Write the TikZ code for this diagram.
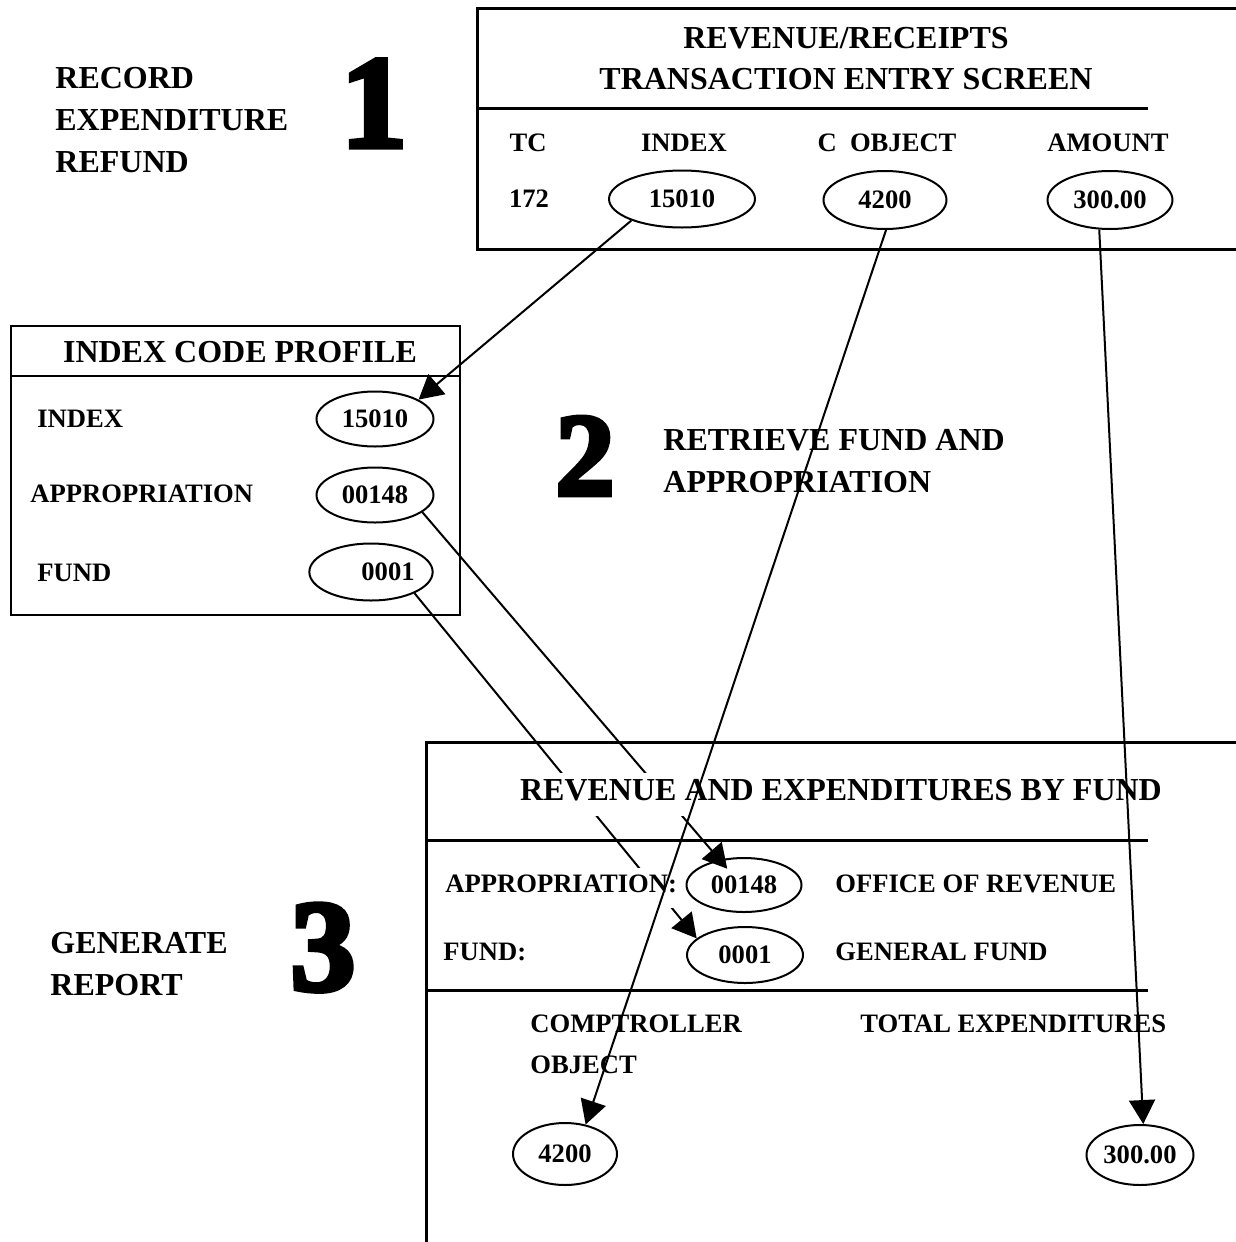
\documentclass[tikz,border=0pt]{standalone}
\usepackage{fontspec}
\setmainfont{Liberation Serif}
\newfontfamily\numfont[BoldFeatures={FakeBold=4}]{Liberation Serif}
\usetikzlibrary{shapes.geometric, arrows.meta, positioning, backgrounds}
\tikzset{
    boxline/.style  ={line width=1.5pt},
    titletxt/.style ={font=\bfseries\fontsize{16}{20.5}\selectfont, inner sep=0pt, align=center},
    steptext/.style ={font=\bfseries\fontsize{16}{21}\selectfont, inner sep=0pt, align=left},
    fieldtxt/.style ={font=\bfseries\fontsize{13.3}{20.5}\selectfont, inner sep=0pt, align=left},
    stepnum/.style  ={font=\numfont\bfseries\fontsize{64}{64}\selectfont, inner sep=0pt},
    valbox/.style   ={ellipse, draw, line width=1pt, inner sep=0pt, font=\bfseries\fontsize{13.3}{16}\selectfont},
    gapfill/.style  ={fill=white, inner ysep=3pt, inner xsep=1pt, text depth=5pt},
    flowarrow/.style={-{Triangle[length=12pt, width=13pt]}, line width=1pt},
}

\begin{document}
\begin{tikzpicture}[x=0.5pt, y=-0.5pt]
    \useasboundingbox (0,0) rectangle (1236,1242);
    \clip (0,0) rectangle (1236,1242);

    % step 1
    \node[steptext, anchor=north west] (recordlbl) at (55,67) {RECORD\\EXPENDITURE\\REFUND};
    \node[stepnum, anchor=base, font=\numfont\bfseries\fontsize{66}{66}\selectfont] (num1) at (374,147) {1};

    % transaction entry screen
    \draw[boxline] (1240,8) -- (477,8) -- (477,249) -- (1240,249);
    \draw[boxline] (477,108) -- (1148,108);
    \node[titletxt, anchor=north] (screentitle) at (846,27) {REVENUE/RECEIPTS\\TRANSACTION ENTRY SCREEN};
    \node[fieldtxt, anchor=base] (tchead) at (528,151) {TC};
    \node[fieldtxt, anchor=base] (idxhead) at (684,151) {INDEX};
    \node[fieldtxt, anchor=base] (objhead) at (887,151) {C\ \ OBJECT};
    \node[fieldtxt, anchor=base] (amthead) at (1108,151) {AMOUNT};
    \node[fieldtxt, anchor=base] (tcval) at (529,207) {172};
    \node[valbox, minimum width=73pt, minimum height=28.5pt] (t15010) at (682,199) {15010};
    \node[valbox, minimum width=61.5pt, minimum height=29pt] (t4200) at (885,200) {4200};
    \node[valbox, minimum width=62.5pt, minimum height=29pt] (t300) at (1110,200) {300.00};

    % index code profile
    \draw[boxline, line width=1.3pt] (11,326) rectangle (460,615);
    \draw[boxline, line width=1.3pt] (11,376) -- (460,376);
    \node[titletxt, anchor=base] (proftitle) at (240,362) {INDEX CODE PROFILE};
    \node[fieldtxt, anchor=base west] (pidx) at (37,427) {INDEX};
    \node[fieldtxt, anchor=base west] (papp) at (30,502) {APPROPRIATION};
    \node[fieldtxt, anchor=base west] (pfund) at (37,581) {FUND};
    \node[valbox, minimum width=58.5pt, minimum height=27.5pt] (p15010) at (375,419) {15010};
    \node[valbox, minimum width=58.5pt, minimum height=27.5pt] (p00148) at (375,495) {00148};
    \node[valbox, minimum width=60.5pt, minimum height=28.5pt] (p0001) at (371,572) {\hspace*{17pt}0001};

    % step 2
    \node[stepnum, anchor=base, font=\numfont\bfseries\fontsize{59}{59}\selectfont] (num2) at (585,495) {2};
    \node[steptext, anchor=north west] (retrievelbl) at (663,429) {RETRIEVE FUND AND\\APPROPRIATION};

    % report
    \draw[boxline] (1240,742) -- (426,742) -- (426,1250);
    \draw[boxline] (426,840) -- (1148,840);
    \draw[boxline] (426,990) -- (1148,990);
    \node[titletxt, gapfill, anchor=base] (reptitle) at (841,800) {REVENUE AND EXPENDITURES BY FUND};
    \node[fieldtxt, gapfill, anchor=base west] (rapp) at (443,892) {APPROPRIATION:};
    \node[fieldtxt, anchor=base west] (rappname) at (835,892) {OFFICE OF REVENUE};
    \node[fieldtxt, anchor=base west] (rfund) at (443,960) {FUND:};
    \node[fieldtxt, anchor=base west] (rfundname) at (835,960) {GENERAL FUND};
    \node[fieldtxt, anchor=north west] (robj) at (530,1014) {COMPTROLLER\\OBJECT};
    \node[fieldtxt, anchor=base west] (rtotal) at (860,1032) {TOTAL EXPENDITURES};
    \node[valbox, minimum width=57.5pt, minimum height=27pt] (b00148) at (744,885) {00148};
    \node[valbox, minimum width=58pt, minimum height=28pt] (b0001) at (745,955) {0001};
    \node[valbox, minimum width=52pt, minimum height=31pt] (b4200) at (565,1154) {4200};
    \node[valbox, minimum width=53.5pt, minimum height=30pt] (b300) at (1140,1155) {300.00};

    % step 3
    \node[steptext, anchor=north west] (generatelbl) at (50,932) {GENERATE\\REPORT};
    \node[stepnum, anchor=base, font=\numfont\bfseries\fontsize{65}{65}\selectfont] (num3) at (323,990) {3};

    % arrows
    \begin{scope}[on background layer]
        \draw[flowarrow, shorten >=-6pt] (p00148.340) -- (b00148.134);
        \draw[flowarrow] (p0001.334) -- (b0001.161);
    \end{scope}
    \draw[flowarrow] (t15010.203) -- (p15010.24);
    \draw[flowarrow] (t4200.272) -- (b4200.55);
    \draw[flowarrow] (t300.250) -- (b300.84);
\end{tikzpicture}
\end{document}
